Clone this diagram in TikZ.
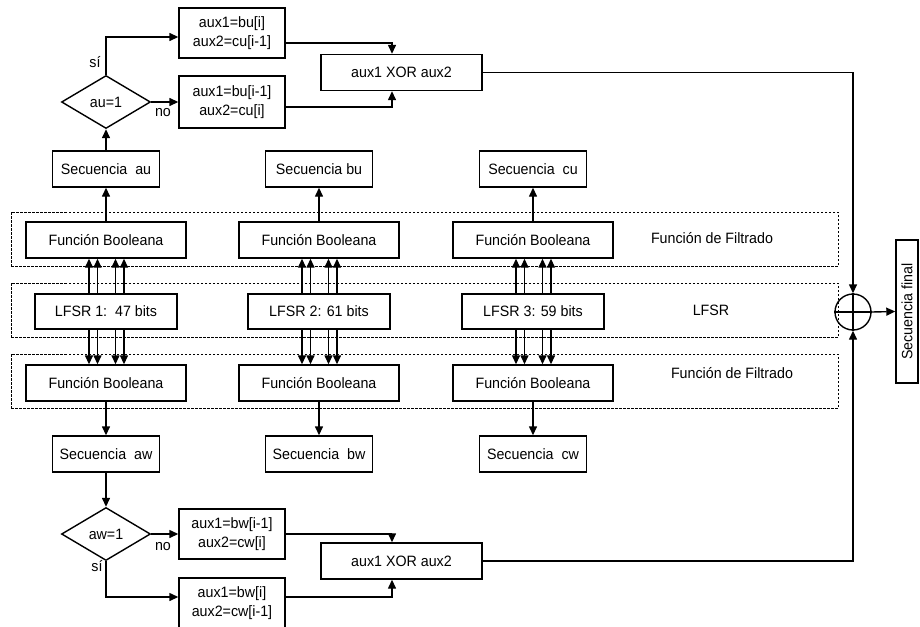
\documentclass[tikz,border=0pt]{standalone}
\usepackage{fontspec}
\setmainfont{Liberation Sans}[FakeStretch=0.95]
\usetikzlibrary{arrows.meta,shapes.geometric}

\begin{document}
\begin{tikzpicture}[
    x=1pt, y=-1pt,
    font=\fontsize{15}{19}\selectfont,
    blk/.style={draw, line width=1.4pt, align=center, inner sep=2pt},
    seqbox/.style={blk, minimum width=107pt, minimum height=36pt},
    boolbox/.style={blk, minimum width=160pt, minimum height=36pt},
    lfsrbox/.style={blk, minimum width=142pt, minimum height=35pt},
    auxbox/.style={blk, minimum width=106pt, minimum height=50pt},
    xorbox/.style={blk, minimum width=161pt, minimum height=36pt},
    cond/.style={draw, diamond, line width=1.4pt, minimum width=89pt,
      minimum height=53pt, inner sep=0pt},
    zone/.style={draw, line width=1pt, dash pattern=on 2.5pt off 1.5pt,
      minimum width=827pt, minimum height=54pt},
    arr/.style={-{Triangle[length=9pt,width=8pt]}, line width=1.4pt},
    lbl/.style={inner sep=0pt},
  ]
  \useasboundingbox (0,0) rectangle (920,626);
  \def\ca{106}  % column a
  \def\cb{319}  % column b
  \def\cc{533}  % column c

  % Dashed zones
  \node[zone] (zfu) at (424.5,239) {};
  \node[zone] (zlf) at (424.5,310) {};
  \node[zone] (zfw) at (424.5,381) {};
  \node (tfu) at (712,238) {Función de Filtrado};
  \node (tlf) at (711,310) {LFSR};
  \node (tfw) at (732,373) {Función de Filtrado};

  % LFSR row
  \node[lfsrbox] (lf1) at (\ca,311.5) {LFSR 1:\ \ 47 bits};
  \node[lfsrbox] (lf2) at (\cb,311.5) {LFSR 2: 61 bits};
  \node[lfsrbox] (lf3) at (\cc,311.5) {LFSR 3: 59 bits};

  % Boolean functions
  \node[boolbox] (fbu1) at (\ca,240) {Función Booleana};
  \node[boolbox] (fbu2) at (\cb,240) {Función Booleana};
  \node[boolbox] (fbu3) at (\cc,240) {Función Booleana};
  \node[boolbox] (fbw1) at (\ca,383) {Función Booleana};
  \node[boolbox] (fbw2) at (\cb,383) {Función Booleana};
  \node[boolbox] (fbw3) at (\cc,383) {Función Booleana};

  % Sequences
  \node[seqbox] (au) at (\ca,169) {Secuencia\ \ au};
  \node[seqbox] (bu) at (\cb,169) {Secuencia bu};
  \node[seqbox] (cu) at (\cc,169) {Secuencia\ \ cu};
  \node[seqbox] (aw) at (\ca,454) {Secuencia\ \ aw};
  \node[seqbox] (bw) at (\cb,454) {Secuencia\ \ bw};
  \node[seqbox] (cw) at (\cc,454) {Secuencia\ \ cw};

  \foreach \c/\u/\w in {1/au/aw, 2/bu/bw, 3/cu/cw} {
    \draw[arr] (fbu\c.north) -- (\u.south);
    \draw[arr] (fbw\c.south) -- (\w.north);
    \foreach \dx in {-17,-8.5,9.5,18} {
      \draw[arr] ([xshift=\dx pt]lf\c.north) -- ([xshift=\dx pt]fbu\c.south);
      \draw[arr] ([xshift=\dx pt]lf\c.south) -- ([xshift=\dx pt]fbw\c.north);
    }
  }

  % Branch au
  \node[cond] (dau) at (\ca,102) {au=1};
  \node[auxbox] (bu1) at (232,33) {aux1=bu[i]\\aux2=cu[i-1]};
  \node[auxbox, minimum height=52pt] (bu2) at (232,102) {aux1=bu[i-1]\\aux2=cu[i]};
  \node[xorbox] (xu) at (401.5,72.5) {aux1 XOR aux2};
  \node[lbl] (siu) at (95,62) {sí};
  \node[lbl] (nou) at (163,113) {no};
  \draw[arr] (au.north) -- (dau.south);
  \draw[arr] (dau.north) |- ([yshift=-4pt]bu1.west);
  \draw[arr] (dau.east) -- (bu2.west);
  \draw[arr] ([yshift=-10pt]bu1.east) -| ([xshift=-9.5pt]xu.north);
  \draw[arr] ([yshift=-5pt]bu2.east) -| ([xshift=-9.5pt]xu.south);

  % Branch aw
  \node[cond] (daw) at (\ca,534) {aw=1};
  \node[auxbox] (bw1) at (232,534) {aux1=bw[i-1]\\aux2=cw[i]};
  \node[auxbox] (bw2) at (232,603) {aux1=bw[i]\\aux2=cw[i-1]};
  \node[xorbox] (xw) at (401.5,561) {aux1 XOR aux2};
  \node[lbl] (now) at (163,547) {no};
  \node[lbl] (siw) at (97,566) {sí};
  \draw[arr] (aw.south) -- (daw.north);
  \draw[arr] (daw.east) -- (bw1.west);
  \draw[arr] (daw.south) |- ([yshift=6pt]bw2.west);
  \draw[arr] (bw1.east) -| ([xshift=-9.5pt]xw.north);
  \draw[arr] ([yshift=6pt]bw2.east) -| ([xshift=-9.5pt]xw.south);

  % Final XOR
  \node[draw, circle, line width=1.4pt, minimum size=36pt, inner sep=0pt] (sum) at (853,312) {};
  \draw[line width=1.4pt] (sum.north) -- (sum.south) (sum.west) -- (sum.east);
  \node[blk, minimum width=143pt, minimum height=22pt, rotate=90] (fin) at (907,311.5) {Secuencia final};
  \draw[arr] (xu.east) -| (sum.north);
  \draw[arr] (xw.east) -| (sum.south);
  \draw[arr] (sum.east) -- (fin.north);
\end{tikzpicture}
\end{document}
